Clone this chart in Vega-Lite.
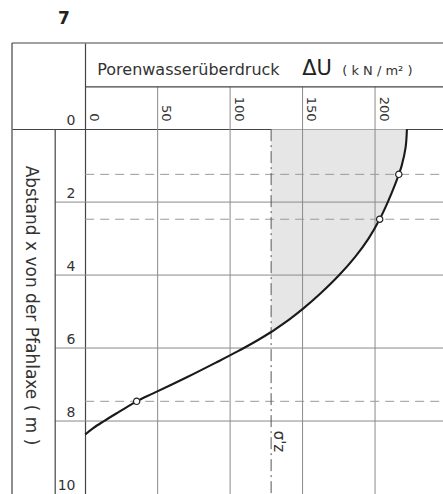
{
  "$schema": "https://vega.github.io/schema/vega-lite/v6.json",
  "width": 431,
  "height": 451,
  "autosize": {"type": "none"},
  "padding": {"left": 12, "top": 43, "right": 0, "bottom": 0},
  "background": "white",
  "title": {"text": "7", "anchor": "start", "frame": "group", "dx": 46, "offset": 14, "fontSize": 17, "fontWeight": "bold", "font": "DejaVu Sans", "color": "#222"},
  "config": {
    "view": {"stroke": null},
    "axis": {"grid": false, "ticks": false, "tickSize": 0, "labelFlush": false, "labelOverlap": false, "labelBound": false, "labelFont": "DejaVu Sans", "titleFont": "DejaVu Sans", "labelColor": "#333", "titleColor": "#333", "titleFontWeight": "normal"}
  },
  "datasets": {
    "curve": [
      {"depth": 0, "du": 222, "obs": false},
      {"depth": 0.5, "du": 221.1, "obs": false},
      {"depth": 1.0, "du": 218.4, "obs": false},
      {"depth": 1.24, "du": 216.4, "obs": true},
      {"depth": 1.5, "du": 214.0, "obs": false},
      {"depth": 2.0, "du": 208.8, "obs": false},
      {"depth": 2.47, "du": 203.2, "obs": true},
      {"depth": 3.0, "du": 195.5, "obs": false},
      {"depth": 3.5, "du": 186.3, "obs": false},
      {"depth": 4.0, "du": 175.3, "obs": false},
      {"depth": 4.5, "du": 162.5, "obs": false},
      {"depth": 4.9, "du": 151.0, "obs": false},
      {"depth": 5.2, "du": 141.4, "obs": false},
      {"depth": 5.5, "du": 130.6, "obs": false},
      {"depth": 5.56, "du": 128.3, "obs": false},
      {"depth": 5.8, "du": 118.4, "obs": false},
      {"depth": 6.1, "du": 104.8, "obs": false},
      {"depth": 6.4, "du": 90.2, "obs": false},
      {"depth": 6.7, "du": 75.2, "obs": false},
      {"depth": 7.0, "du": 59.8, "obs": false},
      {"depth": 7.25, "du": 46.5, "obs": false},
      {"depth": 7.46, "du": 35.5, "obs": true},
      {"depth": 7.75, "du": 23.3, "obs": false},
      {"depth": 8.0, "du": 13.0, "obs": false},
      {"depth": 8.2, "du": 5.3, "obs": false},
      {"depth": 8.37, "du": 0, "obs": false}
    ],
    "xgrid": [{"du": 50}, {"du": 100}, {"du": 150}, {"du": 200}],
    "ygrid": [{"depth": 2}, {"depth": 4}, {"depth": 6}, {"depth": 8}],
    "sigma": [{"du": 128.3, "label": "σ'z"}]
  },
  "resolve": {"axis": {"x": "independent", "y": "independent"}},
  "layer": [
    {
      "data": {"name": "curve"},
      "transform": [{"filter": "datum.depth <= 5.56"}],
      "mark": {"type": "area", "orient": "horizontal", "fill": "#d8d8d8", "fillOpacity": 0.65, "interpolate": "catmull-rom"},
      "encoding": {
        "y": {"field": "depth", "type": "quantitative", "scale": {"domain": [-2.36, 10], "reverse": true, "nice": false, "zero": false}, "axis": null},
        "x": {"field": "du", "type": "quantitative", "scale": {"domain": [-50.5, 246.9], "nice": false, "zero": false}, "axis": null},
        "x2": {"datum": 128.3}
      }
    },
    {
      "data": {"name": "xgrid"},
      "mark": {"type": "rule", "color": "#8a8a8a", "strokeWidth": 1},
      "encoding": {
        "x": {"field": "du", "type": "quantitative", "scale": {"domain": [-50.5, 246.9], "nice": false, "zero": false},
          "axis": {"orient": "top", "offset": -86, "values": [0, 50, 100, 150, 200], "labels": true, "labelAngle": 90, "labelAlign": "right", "labelBaseline": "middle", "labelOffset": 8, "labelPadding": 8, "labelFontSize": 13, "domain": true, "domainColor": "#444", "domainWidth": 1.2, "ticks": false, "grid": false, "title": "Porenwasserüberdruck", "titleX": 84.7, "titleY": -55, "titleAlign": "left", "titleBaseline": "alphabetic", "titleFontSize": 16, "titleAngle": 0}},
        "y": {"datum": -1.16, "axis": null},
        "y2": {"datum": 10}
      }
    },
    {
      "data": {"name": "ygrid"},
      "mark": {"type": "rule", "color": "#8a8a8a", "strokeWidth": 1},
      "encoding": {
        "y": {"field": "depth", "type": "quantitative", "scale": {"domain": [-2.36, 10], "reverse": true, "nice": false, "zero": false},
          "axis": {"orient": "left", "offset": -73, "values": [0, 2, 4, 6, 8, 10], "labels": true, "labelAlign": "right", "labelBaseline": "bottom", "labelOffset": -2, "labelPadding": 10, "labelFontSize": 14, "domain": true, "domainColor": "#444", "domainWidth": 1.2, "ticks": false, "grid": false, "title": "Abstand  x  von  der  Pfahlaxe  ( m )", "titleAngle": 90, "titleX": -54.5, "titleY": 262, "titleAlign": "center", "titleBaseline": "middle", "titleFontSize": 17}},
        "x": {"datum": -20.7, "axis": null},
        "x2": {"datum": 246.9}
      }
    },
    {
      "data": {"values": [{}]},
      "mark": {"type": "rule", "color": "#444", "strokeWidth": 1.2},
      "encoding": {"y": {"datum": -2.36, "axis": null}, "x": {"datum": -50.5, "axis": null}, "x2": {"datum": 246.9}}
    },
    {
      "data": {"values": [{}]},
      "mark": {"type": "rule", "color": "#444", "strokeWidth": 1.2},
      "encoding": {"x": {"datum": -50.5, "axis": null}, "y": {"datum": -2.36, "axis": null}, "y2": {"datum": 10}}
    },
    {
      "data": {"values": [{}]},
      "mark": {"type": "rule", "color": "#444", "strokeWidth": 1.2},
      "encoding": {"x": {"datum": -20.7, "axis": null}, "y": {"datum": 0, "axis": null}, "y2": {"datum": 10}}
    },
    {
      "data": {"values": [{}]},
      "mark": {"type": "rule", "color": "#444", "strokeWidth": 1.2},
      "encoding": {"y": {"datum": -1.16, "axis": null}, "x": {"datum": 0, "axis": null}, "x2": {"datum": 246.9}}
    },
    {
      "data": {"name": "curve"},
      "transform": [{"filter": "datum.obs"}],
      "mark": {"type": "rule", "color": "#9a9a9a", "strokeWidth": 1, "strokeDash": [9, 6]},
      "encoding": {"y": {"field": "depth", "type": "quantitative", "axis": null}, "x": {"datum": 0, "axis": null}, "x2": {"datum": 246.9}}
    },
    {
      "data": {"name": "sigma"},
      "mark": {"type": "rule", "color": "#555", "strokeWidth": 1, "strokeDash": [12, 4, 2, 4]},
      "encoding": {
        "x": {"field": "du", "type": "quantitative",
          "axis": {"orient": "top", "offset": -86, "labels": false, "domain": false, "ticks": false, "grid": false, "title": "ΔU", "titleX": 289.7, "titleY": -55, "titleAlign": "left", "titleBaseline": "alphabetic", "titleFontSize": 21, "titleAngle": 0, "titleColor": "#222"}},
        "y": {"datum": 0, "axis": null},
        "y2": {"datum": 10}
      }
    },
    {
      "data": {"name": "curve"},
      "mark": {"type": "line", "color": "#1a1a1a", "strokeWidth": 2.1, "interpolate": "catmull-rom"},
      "encoding": {
        "x": {"field": "du", "type": "quantitative", "axis": null},
        "y": {"field": "depth", "type": "quantitative", "axis": null},
        "order": {"field": "depth"}
      }
    },
    {
      "data": {"name": "curve"},
      "transform": [{"filter": "datum.obs"}],
      "mark": {"type": "point", "filled": true, "fill": "white", "stroke": "#222", "strokeWidth": 1.2, "size": 40, "opacity": 1},
      "encoding": {
        "x": {"field": "du", "type": "quantitative", "axis": null},
        "y": {"field": "depth", "type": "quantitative", "axis": null}
      }
    },
    {
      "data": {"name": "sigma"},
      "mark": {"type": "text", "angle": 90, "align": "center", "baseline": "bottom", "fontSize": 15, "font": "DejaVu Sans", "color": "#333"},
      "encoding": {
        "x": {"field": "du", "type": "quantitative",
          "axis": {"orient": "top", "offset": -86, "labels": false, "domain": false, "ticks": false, "grid": false, "title": "( k N / m² )", "titleX": 329.7, "titleY": -55, "titleAlign": "left", "titleBaseline": "alphabetic", "titleFontSize": 13, "titleAngle": 0}},
        "y": {"datum": 8.56, "axis": null},
        "text": {"field": "label"}
      }
    }
  ]
}
